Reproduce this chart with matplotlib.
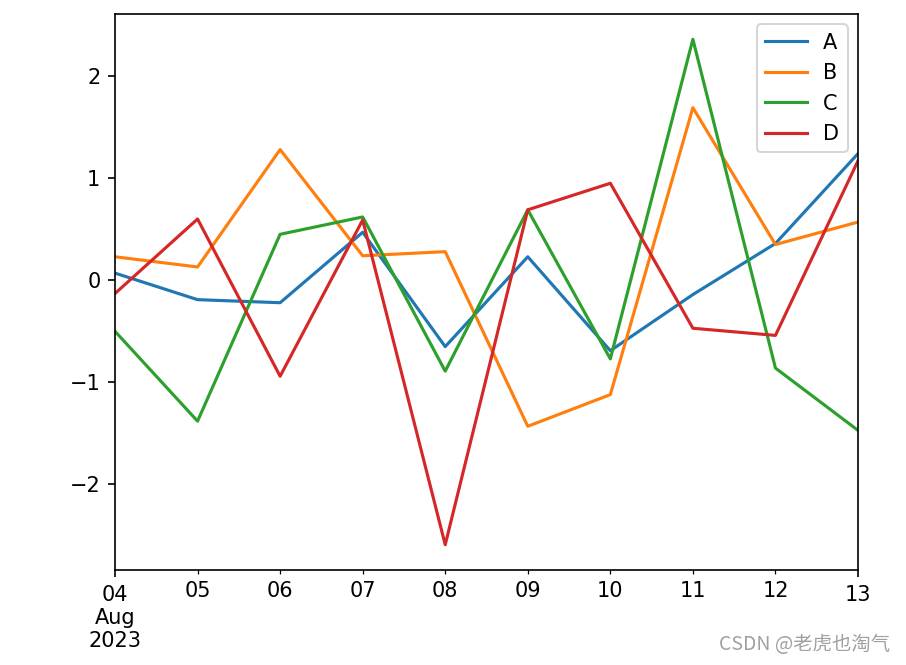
import numpy as np
import pandas as pd
import matplotlib
matplotlib.use("Agg")
import matplotlib.pyplot as plt

# Daily values, 2023-08-04 .. 2023-08-13
dates = ["2023-08-04", "2023-08-05", "2023-08-06", "2023-08-07", "2023-08-08",
         "2023-08-09", "2023-08-10", "2023-08-11", "2023-08-12", "2023-08-13"]
series_a = [0.07, -0.19, -0.22, 0.47, -0.65, 0.23, -0.69, -0.14, 0.36, 1.24]
series_b = [0.23, 0.13, 1.28, 0.24, 0.28, -1.43, -1.12, 1.69, 0.35, 0.57]
series_c = [-0.50, -1.38, 0.45, 0.62, -0.89, 0.69, -0.77, 2.36, -0.86, -1.47]
series_d = [-0.13, 0.60, -0.94, 0.59, -2.59, 0.69, 0.95, -0.47, -0.54, 1.17]

df = pd.DataFrame({"A": series_a, "B": series_b, "C": series_c, "D": series_d},
                  index=pd.DatetimeIndex(dates, freq="D"))

fig = plt.figure(figsize=(906 / 150, 665 / 150), dpi=150)
ax = fig.add_axes([115 / 906, 95 / 665, 743 / 906, 556 / 665])
df.plot(ax=ax)
ax.legend(loc="upper right")

# watermark at the bottom right
fig.text(890 / 906, 10 / 665, "CSDN @老虎也淘气", ha="right", va="bottom",
         fontsize=9.3, color="#a0a0a0", family=['Noto Sans CJK SC', 'DejaVu Sans'])

fig.savefig("out.png", dpi=150)
